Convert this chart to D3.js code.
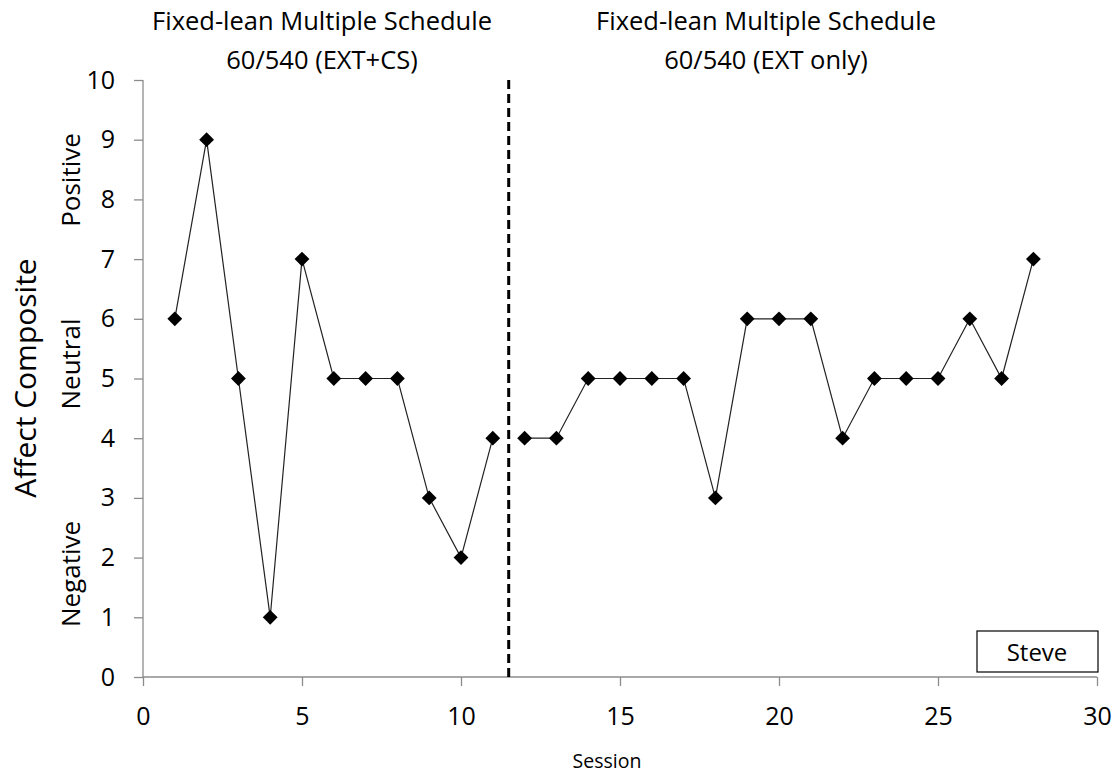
<!DOCTYPE html>
<html>
<head>
<meta charset="utf-8">
<script src="https://cdn.jsdelivr.net/npm/d3@7"></script>
<style>
  body { margin: 0; background: #fff; }
  text { font-family: "Open Sans", "Noto Sans", sans-serif; fill: #000; }
</style>
</head>
<body>
<div id="chart-container"></div>
<script>
// data
const phase1Sessions = [1, 2, 3, 4, 5, 6, 7, 8, 9, 10, 11]
const phase1Values = [6, 9, 5, 1, 7, 5, 5, 5, 3, 2, 4]
const phase2Sessions = [12, 13, 14, 15, 16, 17, 18, 19, 20, 21, 22, 23, 24, 25, 26, 27, 28]
const phase2Values = [4, 4, 5, 5, 5, 5, 3, 6, 6, 6, 4, 5, 5, 5, 6, 5, 7]
const phaseChange = 11.5
const xTicks = [0, 5, 10, 15, 20, 25, 30]
const yTicks = [0, 1, 2, 3, 4, 5, 6, 7, 8, 9, 10]
const phaseTitles = [
  ['Fixed-lean Multiple Schedule', '60/540 (EXT+CS)'],
  ['Fixed-lean Multiple Schedule', '60/540 (EXT only)']
]
const affectLabels = ['Positive', 'Neutral', 'Negative']
const participant = 'Steve'

const width = 1115
const height = 775
const margin = {left: 143, top: 80, right: 18, bottom: 98}
const plotWidth = width - margin.left - margin.right
const plotHeight = height - margin.top - margin.bottom
const axisColor = '#8c8c8c'

const svg = d3.select('#chart-container')
  .append('svg')
  .attr('width', width)
  .attr('height', height)

const container = svg.append('g')
  .attr('transform', `translate(${margin.left}, ${margin.top})`)

const xScale = d3.scaleLinear().domain([0, 30]).range([0, plotWidth])
const yScale = d3.scaleLinear().domain([0, 10]).range([plotHeight, 0])

// axes
const yAxis = d3.axisLeft(yScale).tickValues(yTicks).tickSize(9).tickPadding(19)
const yG = container.append('g').call(yAxis)
const xAxis = d3.axisBottom(xScale).tickValues(xTicks).tickSize(9).tickPadding(21)
const xG = container.append('g')
  .attr('transform', `translate(0, ${plotHeight})`)
  .call(xAxis)

;[xG, yG].forEach(g => {
  g.selectAll('path, line').attr('stroke', axisColor).attr('stroke-width', 1.3)
  g.selectAll('text').style('font-size', '25px').attr('fill', '#000')
})
xG.select('.domain').attr('d', `M0,0H${plotWidth}`)
yG.select('.domain').attr('d', `M0,0V${plotHeight}`)

// phase change line
container.append('line')
  .attr('x1', xScale(phaseChange)).attr('x2', xScale(phaseChange))
  .attr('y1', 0).attr('y2', plotHeight)
  .attr('stroke', '#000')
  .attr('stroke-width', 3)
  .attr('stroke-dasharray', '9,5')

// data paths, broken at the phase change
const line = d3.line().x(d => xScale(d[0])).y(d => yScale(d[1]))
const phases = [
  d3.zip(phase1Sessions, phase1Values),
  d3.zip(phase2Sessions, phase2Values)
]
phases.forEach(pts => {
  container.append('path')
    .attr('d', line(pts))
    .attr('fill', 'none')
    .attr('stroke', '#222')
    .attr('stroke-width', 1.2)
})
container.selectAll('.marker')
  .data(phases.flat())
  .join('path')
  .attr('class', 'marker')
  .attr('transform', d => `translate(${xScale(d[0])}, ${yScale(d[1])}) rotate(45)`)
  .attr('d', d3.symbol().type(d3.symbolSquare).size(110))
  .attr('fill', '#000')

// titles
const titleX = [322, 766]
phaseTitles.forEach((lines, i) => {
  lines.forEach((t, j) => {
    svg.append('text')
      .attr('x', titleX[i])
      .attr('y', 30 + j * 39)
      .attr('text-anchor', 'middle')
      .style('font-size', '25.5px')
      .text(t)
  })
})

// axis titles
svg.append('text')
  .attr('transform', `translate(36, 378) rotate(-90)`)
  .attr('text-anchor', 'middle')
  .style('font-size', '30px')
  .text('Affect Composite')

const labelY = [180, 364, 574]
affectLabels.forEach((label, i) => {
  svg.append('text')
    .attr('transform', `translate(80, ${labelY[i]}) rotate(-90)`)
    .attr('text-anchor', 'middle')
    .style('font-size', '26px')
    .text(label)
})

svg.append('text')
  .attr('x', 607)
  .attr('y', 768)
  .attr('text-anchor', 'middle')
  .style('font-size', '19.5px')
  .text('Session')

// participant label
svg.append('rect')
  .attr('x', 977).attr('y', 631)
  .attr('width', 121).attr('height', 41)
  .attr('fill', '#fff')
  .attr('stroke', '#000')
  .attr('stroke-width', 1.2)
svg.append('text')
  .attr('x', 1037)
  .attr('y', 661)
  .attr('text-anchor', 'middle')
  .style('font-size', '24px')
  .text(participant)
</script>
</body>
</html>
